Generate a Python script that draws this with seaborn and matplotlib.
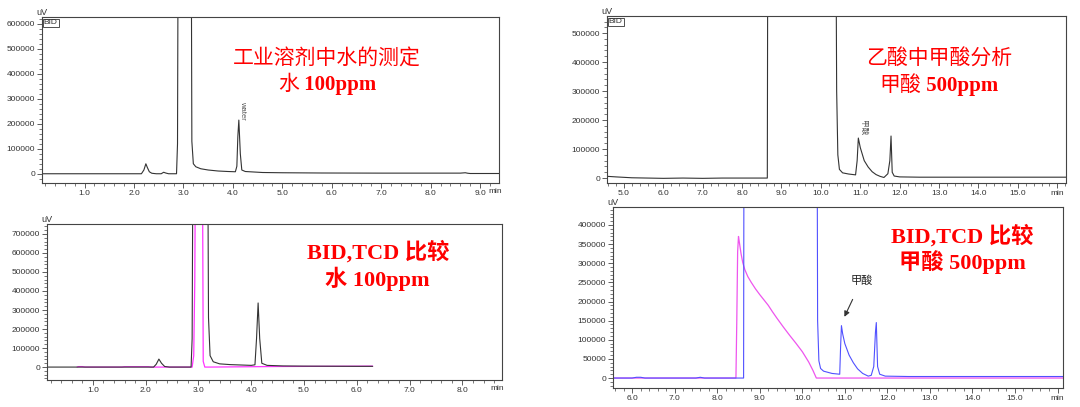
import numpy as np
import pandas as pd
import matplotlib
matplotlib.use('Agg')
import matplotlib.pyplot as plt
from matplotlib.ticker import MultipleLocator, FuncFormatter
import seaborn as sns

sns.set_style('ticks')
plt.rcParams['font.family'] = ['Liberation Sans', 'Noto Sans CJK SC']

# top left: BID, water in solvent
water_t = [0.14, 1.0, 2.0, 2.15, 2.2, 2.24, 2.27, 2.31, 2.36, 2.45, 2.55, 2.6, 2.64, 2.7, 2.86, 2.88, 2.9,
           3.15, 3.17, 3.2, 3.25, 3.35, 3.5, 3.7, 3.9, 4.05, 4.08, 4.1, 4.12, 4.15, 4.18, 4.25, 4.6, 5.0,
           5.8, 7.0, 8.6, 8.7, 8.75, 8.8, 9.0, 9.38]
water_uv = [0, 0, 0, 0, 15000, 40000, 25000, 8000, 2000, 0, 0, 6000, 3000, 0, 0, 120000, 1500000,
            1500000, 130000, 40000, 28000, 20000, 15000, 11000, 9000, 8000, 30000, 150000, 215000, 80000,
            15000, 9000, 5000, 4000, 3000, 2500, 2500, 4000, 2000, 1000, 1000, 1000]

# bottom left: BID vs TCD, water
wcmp_bid_t = [0.13, 1.0, 2.0, 2.15, 2.2, 2.25, 2.3, 2.36, 2.45, 2.86, 2.88, 2.9, 3.17, 3.19, 3.22, 3.28,
              3.4, 3.6, 3.8, 4.0, 4.07, 4.1, 4.13, 4.16, 4.2, 4.3, 4.6, 5.0, 6.0, 6.3]
wcmp_bid_uv = [0, 0, 0, 0, 15000, 42000, 20000, 3000, 0, 0, 150000, 1500000, 1500000, 260000, 60000,
               28000, 17000, 13000, 11000, 9000, 12000, 150000, 337000, 150000, 20000, 9000, 6000, 5000,
               4000, 4000]
wcmp_tcd_t = [0.7, 0.73, 0.8, 0.85, 1.55, 1.6, 2.05, 2.1, 2.88, 2.91, 2.93, 2.95, 3.07, 3.09, 3.12,
              3.2, 4.5, 6.3]
wcmp_tcd_uv = [0, 2500, 2500, 0, 0, 2000, 2000, 0, 0, 60000, 450000, 1500000, 1500000, 30000, 0, 0,
               3000, 5000]

# top right: BID, formic acid in acetic acid
acid_t = [4.57, 4.8, 5.2, 5.6, 6.0, 6.5, 7.0, 7.5, 8.0, 8.64, 8.66, 10.36, 10.4, 10.43, 10.47, 10.55,
          10.7, 10.88, 10.92, 10.95, 11.0, 11.1, 11.2, 11.3, 11.4, 11.5, 11.6, 11.7, 11.75, 11.78, 11.81,
          11.86, 12.0, 12.5, 16.22]
acid_uv = [6000, 4000, 1000, 0, -1000, 0, -1000, 0, 0, 0, 1500000, 1500000, 300000, 80000, 30000, 18000,
           14000, 11000, 60000, 138000, 105000, 60000, 38000, 22000, 12000, 6000, 2000, 15000, 60000,
           145000, 20000, 7000, 4000, 3000, 3000]

# bottom right: BID vs TCD, formic acid
acmp_bid_t = [5.55, 6.0, 6.1, 6.2, 6.3, 7.5, 7.6, 7.7, 8.0, 8.62, 8.64, 10.33, 10.36, 10.39, 10.43, 10.5,
              10.7, 10.88, 10.9, 10.92, 10.95, 11.0, 11.1, 11.2, 11.3, 11.42, 11.55, 11.62, 11.68, 11.72,
              11.74, 11.77, 11.82, 11.95, 12.5, 16.13]
acmp_bid_uv = [0, 0, 2000, 2000, 0, 0, 2000, 0, 0, 0, 1500000, 1500000, 150000, 45000, 25000, 18000,
               12000, 10000, 80000, 137000, 115000, 90000, 60000, 40000, 24000, 12000, 5000, 7000, 30000,
               120000, 145000, 30000, 10000, 5000, 4000, 4000]
acmp_tcd_t = [5.55, 8.44, 8.46, 8.48, 8.5, 8.52, 8.56, 8.6, 8.65, 8.72, 8.8, 8.9, 9.0, 9.1, 9.2, 9.3,
              9.4, 9.55, 9.7, 9.85, 10.0, 10.15, 10.25, 10.33, 16.13]
acmp_tcd_uv = [0, 0, 150000, 330000, 370000, 355000, 325000, 302000, 283000, 265000, 250000, 233000,
               218000, 204000, 190000, 173000, 157000, 134000, 112000, 91000, 69000, 42000, 20000, 0, 0]

red_font = ['Liberation Serif', 'Noto Sans CJK SC']
axcol = '#444444'


def style(ax, xlim, ylim, ymaj, ymin, min_at=None):
    ax.set_xlim(xlim)
    ax.set_ylim(ylim)
    ax.xaxis.set_major_locator(MultipleLocator(1.0))
    ax.xaxis.set_minor_locator(MultipleLocator(0.2))
    ax.yaxis.set_major_locator(MultipleLocator(ymaj))
    ax.yaxis.set_minor_locator(MultipleLocator(ymin))
    if min_at is None:
        ax.xaxis.set_major_formatter(FuncFormatter(lambda v, p: '%.1f' % v))
    else:
        ax.xaxis.set_major_formatter(FuncFormatter(lambda v, p: 'min' if v >= min_at - 0.01 else '%.1f' % v))
    ax.yaxis.set_major_formatter(FuncFormatter(lambda v, p: '%d' % v))
    ax.tick_params(which='major', direction='out', length=3.5, width=0.6, color=axcol,
                   labelsize=6, labelcolor='#333333', pad=1.5)
    ax.tick_params(which='minor', direction='out', length=2, width=0.5, color=axcol)
    for s in ax.spines.values():
        s.set_color(axcol)
        s.set_linewidth(0.8)
    ax.set_xlabel('')
    ax.set_ylabel('')
    ax.text(0, 1.0, 'uV', transform=ax.transAxes, ha='center', va='bottom', fontsize=6.5, color='#333333')


def red_line(ax, x, y, parts, size):
    # one centred line built from pieces with their own weight (CJK regular, latin bold)
    renderer = fig.canvas.get_renderer()
    texts = [ax.text(0, 0, s, transform=ax.transAxes, fontsize=size, fontweight=w, family=red_font,
                     color='#ff0000', ha='left', va='baseline') for s, w in parts]
    widths = [t.get_window_extent(renderer).width for t in texts]
    axw = ax.get_window_extent(renderer).width
    axh = ax.get_window_extent(renderer).height
    base = y - 0.37 * size * 100 / 72 / axh
    start = x - sum(widths) / 2 / axw
    for t, w in zip(texts, widths):
        t.set_position((start, base))
        start += w / axw


fig = plt.figure(figsize=(10.8, 4.07), dpi=100)
ax1 = fig.add_axes([0.0389, 0.5504, 0.4231, 0.4079])
ax2 = fig.add_axes([0.0435, 0.0663, 0.4213, 0.3833])
ax3 = fig.add_axes([0.5620, 0.5504, 0.4250, 0.4103])
ax4 = fig.add_axes([0.5676, 0.0467, 0.4167, 0.4447])

# top left
sns.lineplot(x=water_t, y=water_uv, ax=ax1, color='#333333', lw=0.8, estimator=None, sort=False)
style(ax1, (0.14, 9.38), (-37000, 628000), 100000, 20000)
ax1.text(0.977, -0.03, 'min', transform=ax1.transAxes, ha='left', va='top', fontsize=6, color='#333333')
ax1.text(0.004, 0.985, 'BID', transform=ax1.transAxes, ha='left', va='top', fontsize=6, color='#333333',
         bbox=dict(boxstyle='square,pad=0.1', fc='white', ec='#333333', lw=0.6))
ax1.text(4.2, 216000, 'water', rotation=270, ha='center', va='bottom', fontsize=5.5, color='#555555')
red_line(ax1, 0.624, 0.759, [('工业溶剂中水的测定', 'normal')], 15)
red_line(ax1, 0.624, 0.608, [('水', 'normal'), (' 100ppm', 'bold')], 15)

# bottom left
sns.lineplot(x=wcmp_tcd_t, y=wcmp_tcd_uv, ax=ax2, color='#ff33ff', lw=0.9, estimator=None, sort=False)
sns.lineplot(x=wcmp_bid_t, y=wcmp_bid_uv, ax=ax2, color='#333333', lw=0.8, estimator=None, sort=False)
style(ax2, (0.13, 8.75), (-68000, 752000), 100000, 20000)
ax2.text(0.974, -0.032, 'min', transform=ax2.transAxes, ha='left', va='top', fontsize=6, color='#333333')
red_line(ax2, 0.727, 0.833, [('BID,TCD 比较', 'bold')], 16)
red_line(ax2, 0.727, 0.654, [('水 100ppm', 'bold')], 16)

# top right
sns.lineplot(x=acid_t, y=acid_uv, ax=ax3, color='#333333', lw=0.8, estimator=None, sort=False)
style(ax3, (4.57, 16.22), (-17000, 559000), 100000, 20000, min_at=16.0)
ax3.text(0.004, 0.985, 'BID', transform=ax3.transAxes, ha='left', va='top', fontsize=6, color='#333333',
         bbox=dict(boxstyle='square,pad=0.1', fc='white', ec='#333333', lw=0.6))
ax3.text(11.05, 148000, '甲酸', rotation=270, ha='center', va='bottom', fontsize=5.5, color='#555555')
red_line(ax3, 0.723, 0.754, [('乙酸中甲酸分析', 'normal')], 15)
red_line(ax3, 0.723, 0.599, [('甲酸', 'normal'), (' 500ppm', 'bold')], 15)

# bottom right
sns.lineplot(x=acmp_tcd_t, y=acmp_tcd_uv, ax=ax4, color='#ee55ee', lw=0.9, estimator=None, sort=False)
sns.lineplot(x=acmp_bid_t, y=acmp_bid_uv, ax=ax4, color='#5050ff', lw=0.8, estimator=None, sort=False)
style(ax4, (5.55, 16.13), (-26000, 447000), 50000, 10000, min_at=16.0)
ax4.annotate('甲酸', xy=(10.99, 160000), xytext=(11.39, 254000), ha='center', va='center',
             fontsize=8, color='#222222',
             arrowprops=dict(arrowstyle='-|>', color='#333333', lw=0.8, mutation_scale=8,
                             shrinkA=8, shrinkB=0))
red_line(ax4, 0.776, 0.851, [('BID,TCD 比较', 'bold')], 16)
red_line(ax4, 0.776, 0.702, [('甲酸 500ppm', 'bold')], 16)

fig.savefig('out.png', dpi=100, facecolor='white')
